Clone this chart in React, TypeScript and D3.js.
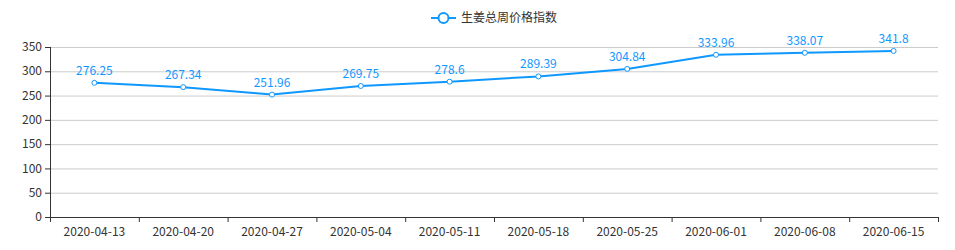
import React from "react";
import * as d3 from "d3";

const categories = ["2020-04-13","2020-04-20","2020-04-27","2020-05-04","2020-05-11","2020-05-18","2020-05-25","2020-06-01","2020-06-08","2020-06-15"];
const values = [276.25, 267.34, 251.96, 269.75, 278.6, 289.39, 304.84, 333.96, 338.07, 341.8];
const yTicks = [0, 50, 100, 150, 200, 250, 300, 350];
const seriesName = "生姜总周价格指数";

const W = 955, H = 250;
const left = 50, right = 938, top = 47, bottom = 217;
const color = "#0f98ff";
const font = "'Noto Sans CJK SC', 'Microsoft YaHei', sans-serif";

export default function App() {
  const x = d3.scaleBand<string>().domain(categories).range([left, right]);
  const y = d3.scaleLinear().domain([0, 350]).range([bottom, top]);
  const line = d3.line<number>().x((_, i) => x(categories[i])! + x.bandwidth() / 2).y(d => y(d));
  const boundaries = categories.map(c => x(c)!).concat([right]);
  return (
    <svg width={W} height={H} style={{ position: "absolute", left: 0, top: 0 }} fontFamily={font}>
      {yTicks.map(t => (
        <g key={t}>
          {t > 0 && <line x1={left} x2={right} y1={y(t) + 0.5} y2={y(t) + 0.5} stroke="#ccc" />}
          <line x1={left - 5} x2={left} y1={y(t) + 0.5} y2={y(t) + 0.5} stroke="#333" />
          <text x={left - 8} y={y(t)} dy="0.35em" textAnchor="end" fontSize={12} fill="#333">{t}</text>
        </g>
      ))}
      <line x1={left + 0.5} x2={left + 0.5} y1={top} y2={bottom} stroke="#333" />
      <line x1={left} x2={right} y1={bottom + 0.5} y2={bottom + 0.5} stroke="#333" />
      {boundaries.map((b, i) => (
        <line key={i} x1={b + 0.5} x2={b + 0.5} y1={bottom} y2={bottom + 5} stroke="#333" />
      ))}
      {categories.map(c => (
        <text key={c} x={x(c)! + x.bandwidth() / 2} y={bottom + 15} dy="0.35em" textAnchor="middle" fontSize={12} fill="#333">{c}</text>
      ))}
      <path d={line(values) || ""} fill="none" stroke={color} strokeWidth={2} />
      {values.map((v, i) => {
        const cx = x(categories[i])! + x.bandwidth() / 2;
        return (
          <g key={i}>
            <circle cx={cx} cy={y(v)} r={2.5} fill="#fff" stroke={color} strokeWidth={1} />
            <text x={cx} y={y(v) - 8} textAnchor="middle" fontSize={12} fill={color}>{v}</text>
          </g>
        );
      })}
      <g>
        <line x1={431} x2={456} y1={18} y2={18} stroke={color} strokeWidth={2} />
        <circle cx={443.5} cy={18} r={5} fill="#fff" stroke={color} strokeWidth={2} />
        <text x={461} y={18} dy="0.35em" fontSize={12} fill="#333">{seriesName}</text>
      </g>
    </svg>
  );
}
